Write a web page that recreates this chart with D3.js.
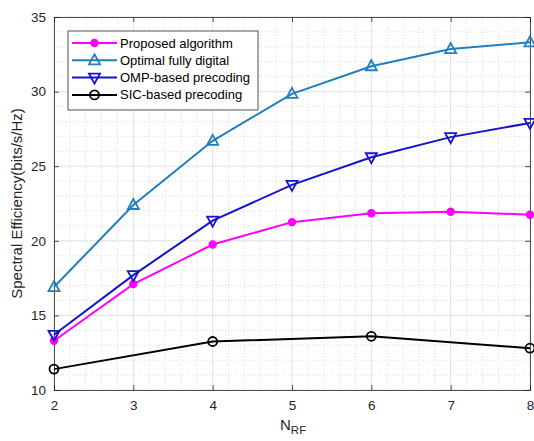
<!DOCTYPE html>
<html><head><meta charset="utf-8">
<script src="https://cdn.jsdelivr.net/npm/d3@7"></script>
<style>body{margin:0;background:#fff}svg{display:block}text{font-family:"Liberation Sans",Arial,sans-serif}</style>
</head><body>
<svg id="c" width="534" height="441"></svg>
<script>
const nrf = [2,3,4,5,6,7,8];
const proposed = [13.3,17.1,19.75,21.25,21.85,21.95,21.75];
const optimal = [16.9,22.4,26.7,29.85,31.7,32.85,33.3];
const omp = [13.7,17.7,21.35,23.75,25.6,26.95,27.9];
const sicX = [2,4,6,8];
const sic = [11.4,13.25,13.6,12.8];
const xTicks = [2,3,4,5,6,7,8];
const yTicks = [10,15,20,25,30,35];
const names = ["Proposed algorithm","Optimal fully digital","OMP-based precoding","SIC-based precoding"];

const svg = d3.select("#c");
const L=54, R=530, T=17, B=390;
const x = d3.scaleLinear().domain([2,8]).range([L,R]);
const y = d3.scaleLinear().domain([10,35]).range([B,T]);

// minor grid
const g = svg.append("g");
const xm = d3.range(2,8.001,0.2).filter(v=>Math.abs(v-Math.round(v))>1e-6);
const ym = d3.range(10,35.001,1).filter(v=>v%5!==0);
g.selectAll(".xm").data(xm).join("line").attr("x1",d=>x(d)).attr("x2",d=>x(d)).attr("y1",T).attr("y2",B)
 .attr("stroke","#d4d4d4").attr("stroke-width",0.8).attr("stroke-dasharray","1,2");
g.selectAll(".ym").data(ym).join("line").attr("y1",d=>y(d)).attr("y2",d=>y(d)).attr("x1",L).attr("x2",R)
 .attr("stroke","#d4d4d4").attr("stroke-width",0.8).attr("stroke-dasharray","1,2");
// major grid
g.selectAll(".xg").data(xTicks).join("line").attr("x1",d=>x(d)).attr("x2",d=>x(d)).attr("y1",T).attr("y2",B)
 .attr("stroke","#e0e0e0").attr("stroke-width",1);
g.selectAll(".yg").data(yTicks).join("line").attr("y1",d=>y(d)).attr("y2",d=>y(d)).attr("x1",L).attr("x2",R)
 .attr("stroke","#e0e0e0").attr("stroke-width",1);

// axes
const ax = svg.append("g").attr("transform",`translate(0,${B})`)
 .call(d3.axisBottom(x).tickValues(xTicks).tickSize(-5).tickPadding(10).tickFormat(d3.format("d")));
const ay = svg.append("g").attr("transform",`translate(${L},0)`)
 .call(d3.axisLeft(y).tickValues(yTicks).tickSize(-5).tickPadding(8));
const ax2 = svg.append("g").attr("transform",`translate(0,${T})`)
 .call(d3.axisTop(x).tickValues(xTicks).tickSize(-5).tickFormat(""));
const ay2 = svg.append("g").attr("transform",`translate(${R},0)`)
 .call(d3.axisRight(y).tickValues(yTicks).tickSize(-5).tickFormat(""));
[ax,ay,ax2,ay2].forEach(a=>{
  a.select(".domain").attr("stroke","#262626").attr("stroke-width",0.8);
  a.selectAll(".tick line").attr("stroke","#262626").attr("stroke-width",0.8);
  a.selectAll(".tick text").attr("fill","#262626").style("font-size","13.5px").style("font-family","Liberation Sans, Arial, sans-serif");
});

// axis labels
svg.append("text").attr("transform",`translate(22,${(T+B)/2}) rotate(-90)`).attr("text-anchor","middle")
 .attr("fill","#262626").style("font-size","15px").text("Spectral Efficiency(bits/s/Hz)");
const xl = svg.append("text").attr("x",(L+R)/2-12).attr("y",430).attr("fill","#262626").style("font-size","15px");
xl.append("tspan").text("N");
xl.append("tspan").attr("dy",4).style("font-size","11.5px").text("RF");

// series
const series = [
  {xs:nrf, ys:proposed, color:"#ff00ff", m:"star"},
  {xs:nrf, ys:optimal, color:"#1f7fbf", m:"tri"},
  {xs:nrf, ys:omp, color:"#1414c8", m:"itri"},
  {xs:sicX, ys:sic, color:"#000000", m:"circ"}
];
const line = d3.line().x(d=>x(d[0])).y(d=>y(d[1]));
function marker(sel, m, color){
  if(m==="star"){
    sel.append("circle").attr("r",3.6).attr("fill",color).attr("stroke",color).attr("stroke-width",1.2);
  } else if(m==="tri"){
    sel.append("path").attr("d","M0,-6L5.5,4L-5.5,4Z").attr("fill","none").attr("stroke",color).attr("stroke-width",1.8);
  } else if(m==="itri"){
    sel.append("path").attr("d","M0,6L5.5,-4L-5.5,-4Z").attr("fill","none").attr("stroke",color).attr("stroke-width",1.8);
  } else {
    sel.append("circle").attr("r",4.5).attr("fill","none").attr("stroke",color).attr("stroke-width",1.8);
  }
}
series.forEach(s=>{
  const pts = s.xs.map((v,i)=>[v,s.ys[i]]);
  svg.append("path").datum(pts).attr("d",line).attr("fill","none").attr("stroke",s.color).attr("stroke-width",2);
  pts.forEach(p=>{
    const gg = svg.append("g").attr("transform",`translate(${x(p[0])},${y(p[1])})`);
    marker(gg, s.m, s.color);
  });
});

// legend
const lg = svg.append("g");
lg.append("rect").attr("x",68).attr("y",31).attr("width",190).attr("height",79).attr("fill","#fff").attr("stroke","#262626").attr("stroke-width",0.8);
series.forEach((s,i)=>{
  const yy = 43 + i*17.3;
  lg.append("line").attr("x1",72).attr("x2",117).attr("y1",yy).attr("y2",yy).attr("stroke",s.color).attr("stroke-width",2);
  const mg = lg.append("g").attr("transform",`translate(94.5,${yy})`);
  marker(mg, s.m, s.color);
  lg.append("text").attr("x",120).attr("y",yy+4.5).attr("fill","#000").style("font-size","13px").text(names[i]);
});
</script>
</body></html>
